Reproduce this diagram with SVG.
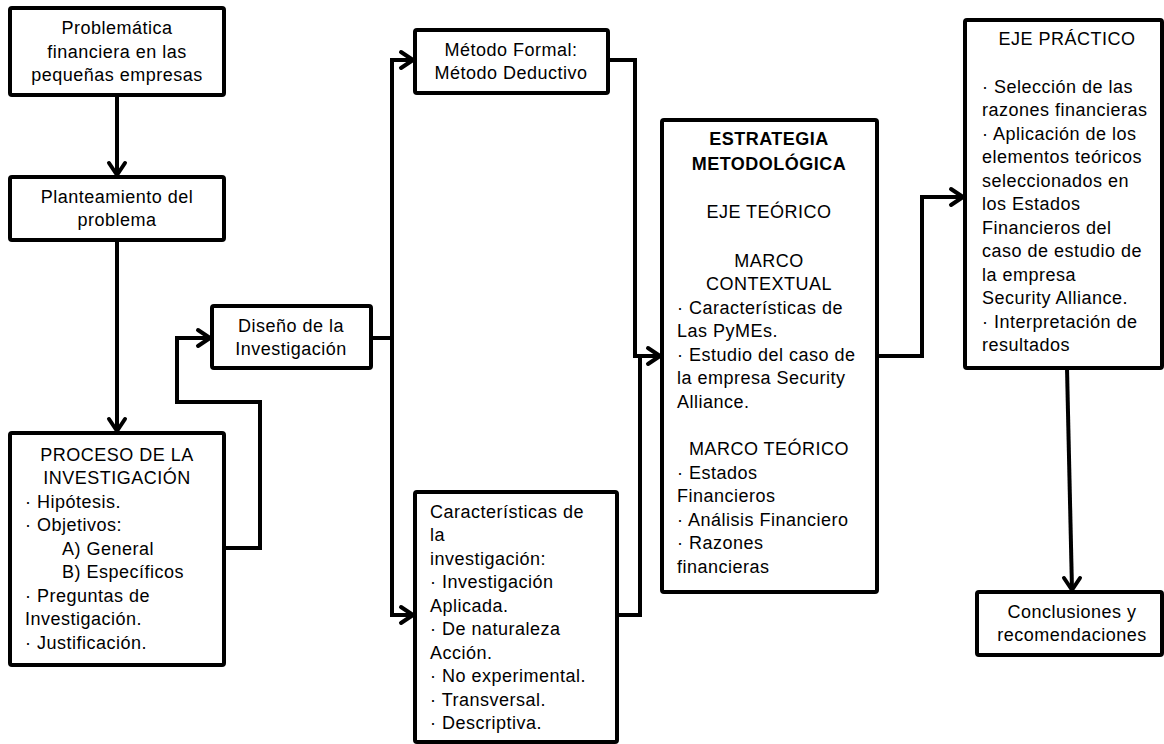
<svg xmlns="http://www.w3.org/2000/svg" width="1164" height="744" viewBox="0 0 1164 744">
<defs>
<style>
.box{fill:#fff;stroke:#000;stroke-width:4;stroke-linejoin:round}
.ln{fill:none;stroke:#000;stroke-width:4;stroke-linejoin:miter}
.ah{fill:none;stroke:#000;stroke-width:4;stroke-linecap:round;stroke-linejoin:round}
text{font-family:"Liberation Sans",Arial,sans-serif;font-size:18px;fill:#000;letter-spacing:0.5px}
.c{text-anchor:middle}
.b{font-weight:bold}
</style>
</defs>
<rect width="1164" height="744" fill="#fff"/>
<g id="connectors">
<path class="ln" d="M117,95 V175"/>
<path class="ah" d="M109,163 L117,175 L125,163"/>
<path class="ln" d="M117,240 V431"/>
<path class="ah" d="M109,419 L117,431 L125,419"/>
<path class="ln" d="M224,548 H260 V402 H177 V338 H210"/>
<path class="ah" d="M198,330 L210,338 L198,346"/>
<path class="ln" d="M371,338 H392"/>
<path class="ln" d="M413,60 H392 V615 H413"/>
<path class="ah" d="M401,52 L413,60 L401,68"/>
<path class="ah" d="M401,607 L413,615 L401,623"/>
<path class="ln" d="M608,60 H635 V356 H660"/>
<path class="ln" d="M617,615 H640 V356"/>
<path class="ah" d="M648,348 L660,356 L648,364"/>
<path class="ln" d="M877,356 H922 V197 H963"/>
<path class="ah" d="M951,189 L963,197 L951,205"/>
<path class="ln" d="M1067,368 L1072,590"/>
<path class="ah" d="M1064,578 L1072,590 L1080,578"/>
</g>
<g id="n-problematica">
<rect class="box" x="10" y="8" width="214" height="87" rx="2"/>
<text class="c" x="117" y="34">Problemática</text>
<text class="c" x="117" y="58">financiera en las</text>
<text class="c" x="117" y="81">pequeñas empresas</text>
</g>
<g id="n-planteamiento">
<rect class="box" x="10" y="177" width="214" height="63" rx="2"/>
<text class="c" x="117" y="203">Planteamiento del</text>
<text class="c" x="117" y="226">problema</text>
</g>
<g id="n-proceso">
<rect class="box" x="10" y="433" width="214" height="232" rx="2"/>
<text class="c" x="117" y="461">PROCESO DE LA</text>
<text class="c" x="117" y="484">INVESTIGACIÓN</text>
<text x="25" y="508">· Hipótesis.</text>
<text x="25" y="531">· Objetivos:</text>
<text x="62" y="555">A) General</text>
<text x="62" y="578">B) Específicos</text>
<text x="25" y="602">· Preguntas de</text>
<text x="25" y="625">Investigación.</text>
<text x="25" y="649">· Justificación.</text>
</g>
<g id="n-diseno">
<rect class="box" x="212" y="306" width="159" height="62" rx="2"/>
<text class="c" x="291" y="332">Diseño de la</text>
<text class="c" x="291" y="355">Investigación</text>
</g>
<g id="n-metodo">
<rect class="box" x="415" y="30" width="193" height="63" rx="2"/>
<text class="c" x="511" y="56">Método Formal:</text>
<text class="c" x="511" y="79">Método Deductivo</text>
</g>
<g id="n-caracteristicas">
<rect class="box" x="415" y="492" width="202" height="250" rx="2"/>
<text x="430" y="518">Características de</text>
<text x="430" y="541">la</text>
<text x="430" y="565">investigación:</text>
<text x="430" y="588">· Investigación</text>
<text x="430" y="612">Aplicada.</text>
<text x="430" y="635">· De naturaleza</text>
<text x="430" y="659">Acción.</text>
<text x="430" y="682">· No experimental.</text>
<text x="430" y="706">· Transversal.</text>
<text x="430" y="729">· Descriptiva.</text>
</g>
<g id="n-estrategia">
<rect class="box" x="662" y="120" width="215" height="472" rx="2"/>
<text class="c b" x="769" y="145">ESTRATEGIA</text>
<text class="c b" x="769" y="170">METODOLÓGICA</text>
<text class="c" x="769" y="218">EJE TEÓRICO</text>
<text class="c" x="769" y="267">MARCO</text>
<text class="c" x="769" y="290">CONTEXTUAL</text>
<text x="677" y="314">· Características de</text>
<text x="677" y="337">Las PyMEs.</text>
<text x="677" y="361">· Estudio del caso de</text>
<text x="677" y="384">la empresa Security</text>
<text x="677" y="408">Alliance.</text>
<text class="c" x="769" y="455">MARCO TEÓRICO</text>
<text x="677" y="479">· Estados</text>
<text x="677" y="502">Financieros</text>
<text x="677" y="526">· Análisis Financiero</text>
<text x="677" y="549">· Razones</text>
<text x="677" y="573">financieras</text>
</g>
<g id="n-eje-practico">
<rect class="box" x="965" y="20" width="197" height="348" rx="2"/>
<text class="c" x="1067" y="45">EJE PRÁCTICO</text>
<text x="982" y="93">· Selección de las</text>
<text x="982" y="116">razones financieras</text>
<text x="982" y="140">· Aplicación de los</text>
<text x="982" y="163">elementos teóricos</text>
<text x="982" y="187">seleccionados en</text>
<text x="982" y="210">los Estados</text>
<text x="982" y="234">Financieros del</text>
<text x="982" y="257">caso de estudio de</text>
<text x="982" y="281">la empresa</text>
<text x="982" y="304">Security Alliance.</text>
<text x="982" y="328">· Interpretación de</text>
<text x="982" y="351">resultados</text>
</g>
<g id="n-conclusiones">
<rect class="box" x="977" y="592" width="185" height="63" rx="2"/>
<text class="c" x="1072" y="618">Conclusiones y</text>
<text class="c" x="1072" y="641">recomendaciones</text>
</g>
</svg>
